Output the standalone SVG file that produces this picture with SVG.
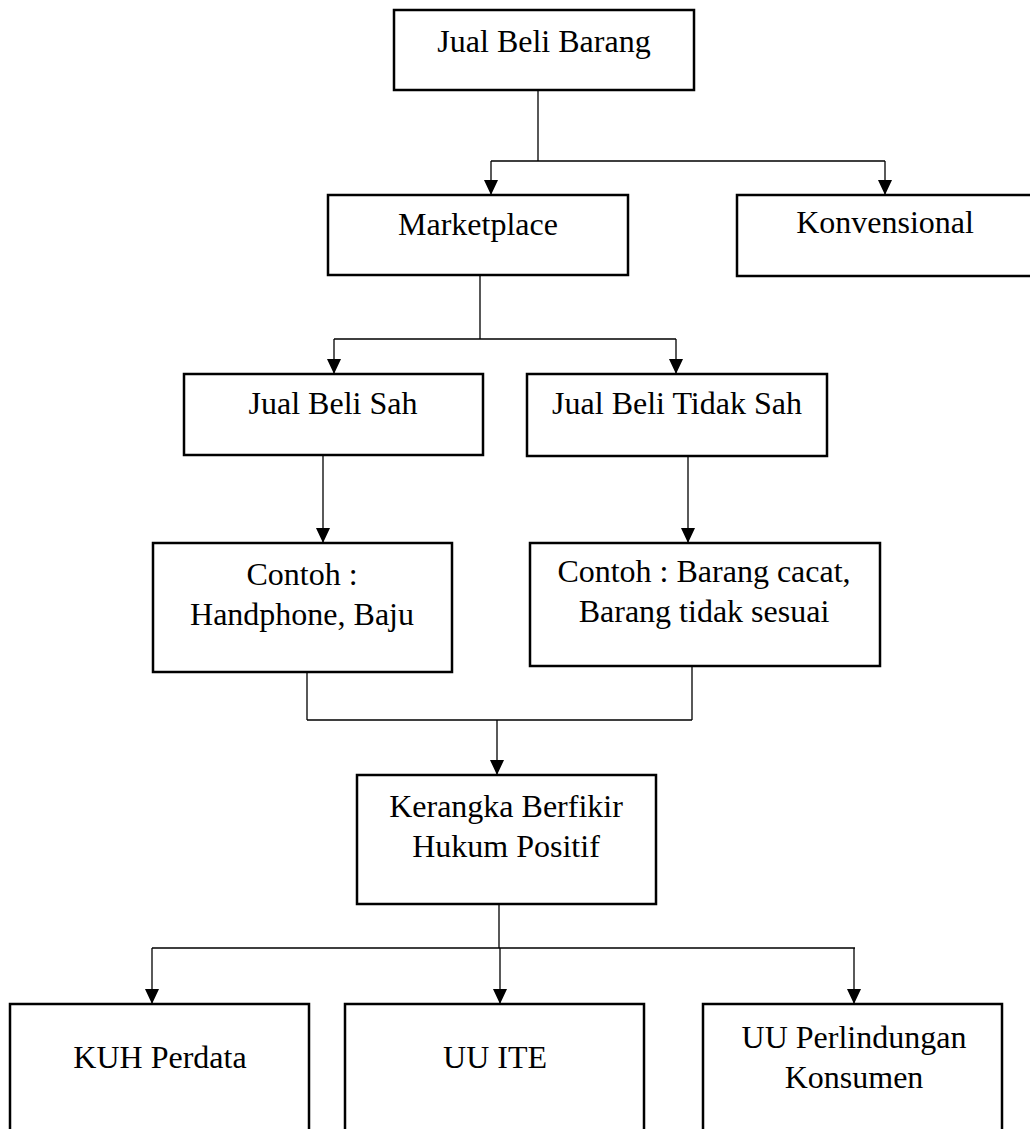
<svg xmlns="http://www.w3.org/2000/svg" width="1030" height="1129" viewBox="0 0 1030 1129">
<style>
.box{fill:#fff;stroke:#000;stroke-width:2.5}
.t{font-family:"Liberation Serif","Times New Roman",serif;font-size:32px;fill:#000;text-anchor:middle}
.c{fill:none;stroke:#000;stroke-width:1.3}
.a{fill:none;stroke:#000;stroke-width:1.3;marker-end:url(#ah)}
</style>
<defs>
<marker id="ah" markerUnits="userSpaceOnUse" markerWidth="15" markerHeight="14" refX="15" refY="7" orient="auto">
<path d="M0,0 L15,7 L0,14 z" fill="#000"/>
</marker>
</defs>
<rect width="1030" height="1129" fill="#fff"/>
<g id="connectors">
<path class="c" d="M538,90 V161 M491,161 H885"/>
<path class="a" d="M491,161 V195"/>
<path class="a" d="M885,161 V195"/>
<path class="c" d="M480,275 V339 M334,339 H676"/>
<path class="a" d="M334,339 V374"/>
<path class="a" d="M676,339 V374"/>
<path class="a" d="M323,455 V543"/>
<path class="a" d="M688,456 V543"/>
<path class="c" d="M307,672 V720 M692,666 V720 M307,720 H692"/>
<path class="a" d="M497,720 V775"/>
<path class="c" d="M499,904 V948 M152,948 H855"/>
<path class="a" d="M152,948 V1004"/>
<path class="a" d="M500,948 V1004"/>
<path class="a" d="M854,948 V1004"/>
</g>
<g id="n-jual-beli-barang"><rect class="box" x="394" y="10" width="300" height="80"/><text class="t" x="544" y="52">Jual Beli Barang</text></g>
<g id="n-marketplace"><rect class="box" x="328" y="195" width="300" height="80"/><text class="t" x="478" y="235">Marketplace</text></g>
<g id="n-konvensional"><rect class="box" x="737" y="195" width="310" height="81"/><text class="t" x="885" y="233">Konvensional</text></g>
<g id="n-sah"><rect class="box" x="184" y="374" width="299" height="81"/><text class="t" x="333" y="414">Jual Beli Sah</text></g>
<g id="n-tidak-sah"><rect class="box" x="527" y="374" width="300" height="82"/><text class="t" x="677" y="414">Jual Beli Tidak Sah</text></g>
<g id="n-contoh-sah"><rect class="box" x="153" y="543" width="299" height="129"/><text class="t" x="302" y="585">Contoh :</text><text class="t" x="302" y="625">Handphone, Baju</text></g>
<g id="n-contoh-tidak-sah"><rect class="box" x="530" y="543" width="350" height="123"/><text class="t" x="704" y="582">Contoh : Barang cacat,</text><text class="t" x="704" y="622">Barang tidak sesuai</text></g>
<g id="n-kerangka"><rect class="box" x="357" y="775" width="299" height="129"/><text class="t" x="506" y="817">Kerangka Berfikir</text><text class="t" x="506" y="857">Hukum Positif</text></g>
<g id="n-kuh"><rect class="box" x="10" y="1004" width="299" height="140"/><text class="t" x="160" y="1068">KUH Perdata</text></g>
<g id="n-ite"><rect class="box" x="345" y="1004" width="299" height="140"/><text class="t" x="495" y="1068">UU ITE</text></g>
<g id="n-pk"><rect class="box" x="703" y="1004" width="299" height="140"/><text class="t" x="854" y="1048">UU Perlindungan</text><text class="t" x="854" y="1088">Konsumen</text></g>
</svg>
